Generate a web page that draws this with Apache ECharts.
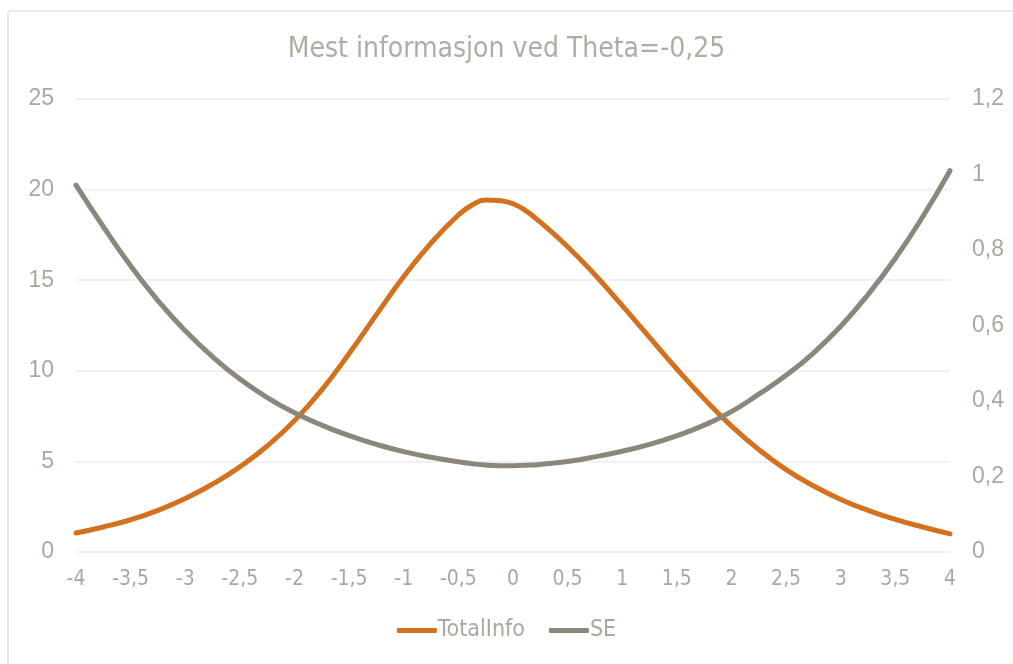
<!DOCTYPE html>
<html>
<head>
<meta charset="utf-8">
<script src="https://cdn.jsdelivr.net/npm/echarts@6/dist/echarts.min.js"></script>
<style>
  html, body { margin: 0; padding: 0; background: #fff; }
  #chart { width: 1013px; height: 664px; }
</style>
</head>
<body>
<div id="chart"></div>
<script>
// Theta grid (x axis); denser around the information peak
const theta = [-4, -3.75, -3.5, -3.25, -3, -2.75, -2.5, -2.25, -2, -1.75, -1.5, -1.25, -1, -0.75,
  -0.5, -0.375, -0.25, -0.125, 0, 0.125, 0.25,
  0.5, 0.75, 1, 1.25, 1.5, 1.75, 2, 2.25, 2.5, 2.75, 3, 3.25, 3.5, 3.75, 4];

// Total test information (left axis)
const totalInfo = [1.05, 1.38, 1.78, 2.3, 2.95, 3.75, 4.7, 5.85, 7.25, 8.95, 10.95, 13.1, 15.2, 17.05,
  18.6, 19.15, 19.43, 19.4, 19.22, 18.8, 18.2,
  16.85, 15.3, 13.6, 11.85, 10.1, 8.45, 6.95, 5.65, 4.55, 3.65, 2.9, 2.3, 1.8, 1.38, 1.0];

// Standard error of measurement (right axis)
const se = [0.972, 0.862, 0.758, 0.666, 0.586, 0.517, 0.458, 0.409, 0.369, 0.336, 0.308, 0.285, 0.266, 0.251,
  0.239, 0.234, 0.2302, 0.2287, 0.2288, 0.2298, 0.232,
  0.240, 0.252, 0.267, 0.285, 0.308, 0.336, 0.372, 0.418, 0.468, 0.527, 0.598, 0.682, 0.778, 0.888, 1.01];

const titleText = 'Mest informasjon ved Theta=-0,25';
const seriesNames = ['TotalInfo', 'SE'];

const textColor = '#aba79c';
const narrow = "'Liberation Sans Narrow', 'DejaVu Sans Condensed', 'Arial Narrow', sans-serif";
const comma = v => String(v).replace('.', ',');

const chart = echarts.init(document.getElementById('chart'), null, { renderer: 'canvas' });
chart.setOption({
  backgroundColor: '#fff',
  animation: false,
  color: ['#d4711f', '#8c877a'],
  graphic: [{
    type: 'rect',
    shape: { x: 8, y: 11, width: 1100, height: 800, r: 2 },
    style: { fill: 'none', stroke: '#e2e2e2', lineWidth: 1.5 },
    silent: true, z: -10
  }],
  title: {
    text: titleText,
    left: 'center',
    top: 31,
    textStyle: { fontFamily: narrow, fontSize: 28, fontWeight: 'normal', color: '#b0aca1' }
  },
  legend: {
    bottom: 17,
    left: 'center',
    itemWidth: 40,
    itemHeight: 5,
    itemGap: 24,
    icon: 'roundRect',
    textStyle: { fontFamily: narrow, fontSize: 23, color: textColor, padding: [0, 0, 0, -4] },
    data: seriesNames
  },
  grid: { left: 76, right: 63, top: 99, bottom: 112, containLabel: false },
  xAxis: {
    type: 'value',
    min: -4, max: 4, interval: 0.5,
    axisLine: { show: false },
    axisTick: { show: false },
    splitLine: { show: false },
    axisLabel: { formatter: comma, fontFamily: narrow, fontSize: 21, color: textColor, margin: 17 }
  },
  yAxis: [{
    type: 'value',
    min: 0, max: 25, interval: 5,
    axisLine: { show: false },
    axisTick: { show: false },
    splitLine: { lineStyle: { color: '#ebebeb', width: 1.5 } },
    axisLabel: { fontFamily: "'Liberation Sans', sans-serif", fontSize: 23, color: textColor, margin: 22 }
  }, {
    type: 'value',
    min: 0, max: 1.2, interval: 0.2,
    position: 'right',
    axisLine: { show: false },
    axisTick: { show: false },
    splitLine: { show: false },
    axisLabel: {
      formatter: v => comma(+v.toFixed(1)),
      fontFamily: "'Liberation Sans', sans-serif", fontSize: 23, color: textColor, margin: 22
    }
  }],
  series: [{
    name: seriesNames[0],
    type: 'line',
    yAxisIndex: 0,
    smooth: 0.5,
    showSymbol: false,
    lineStyle: { width: 5, cap: 'round' },
    data: theta.map((t, i) => [t, totalInfo[i]])
  }, {
    name: seriesNames[1],
    type: 'line',
    yAxisIndex: 1,
    smooth: 0.5,
    showSymbol: false,
    lineStyle: { width: 5, cap: 'round' },
    data: theta.map((t, i) => [t, se[i]])
  }]
});
</script>
</body>
</html>
